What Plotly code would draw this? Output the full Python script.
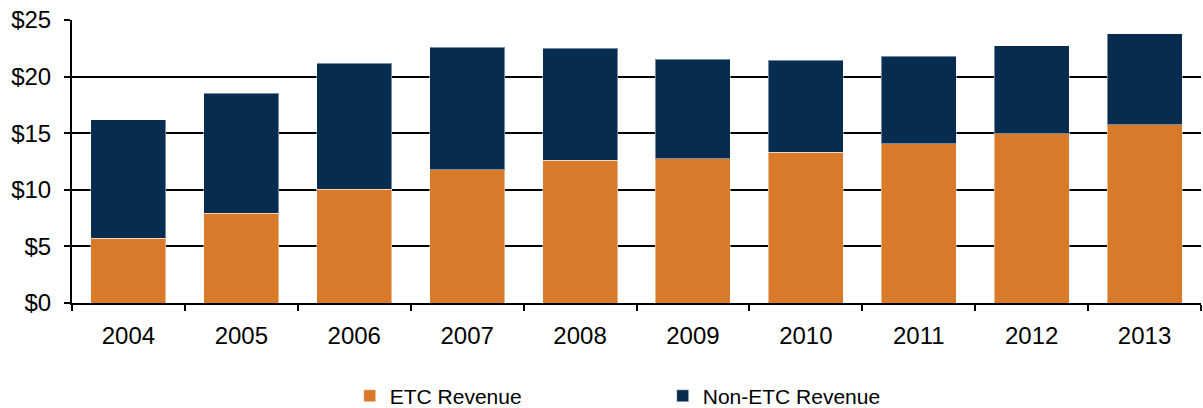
import plotly.graph_objects as go

# Revenue by year, split into ETC and non-ETC components ($)
years = ["2004", "2005", "2006", "2007", "2008", "2009", "2010", "2011", "2012", "2013"]
etc_revenue = [5.74, 7.91, 10.06, 11.76, 12.59, 12.73, 13.32, 14.06, 14.94, 15.74]
non_etc_revenue = [10.44, 10.62, 11.12, 10.83, 9.91, 8.80, 8.12, 7.76, 7.77, 8.03]

ORANGE = "#D87A29"
NAVY = "#072C50"
FONT = "Liberation Sans, Arial, sans-serif"

fig = go.Figure()
fig.add_trace(go.Bar(
    x=years, y=etc_revenue, name="ETC Revenue",
    marker=dict(color=ORANGE, line=dict(color="rgba(255,255,255,0.45)", width=1)),
))
fig.add_trace(go.Bar(
    x=years, y=non_etc_revenue, name="Non-ETC Revenue",
    marker=dict(color=NAVY, line=dict(color="rgba(255,255,255,0.45)", width=1)),
))

fig.update_layout(
    width=1203, height=408,
    margin=dict(l=72, r=2, t=20, b=105),
    barmode="stack",
    bargap=0.336,
    plot_bgcolor="white",
    paper_bgcolor="white",
    font=dict(family=FONT, size=24, color="#000000"),
    showlegend=True,
    legend=dict(
        orientation="h",
        x=0.246, xanchor="left",
        yref="container", y=0.029, yanchor="middle",
        entrywidth=268, entrywidthmode="pixels",
        itemwidth=30,
        font=dict(family=FONT, size=21, color="#000000"),
        traceorder="normal",
        bgcolor="rgba(0,0,0,0)",
    ),
)

fig.update_yaxes(
    range=[0, 25], dtick=5, tickprefix="$",
    showgrid=True, gridcolor="#000000", gridwidth=2,
    showline=True, linecolor="#000000", linewidth=2,
    ticks="outside", ticklen=6, tickwidth=2, tickcolor="#000000",
    ticklabelstandoff=8,
    zeroline=False,
    fixedrange=True,
)
fig.update_xaxes(
    type="category",
    showline=True, linecolor="#000000", linewidth=2,
    ticks="outside", ticklen=6, tickwidth=2, tickcolor="#000000",
    tickson="boundaries",
    showgrid=False,
    ticklabelstandoff=10,
    fixedrange=True,
)

fig.write_html("out.html")
